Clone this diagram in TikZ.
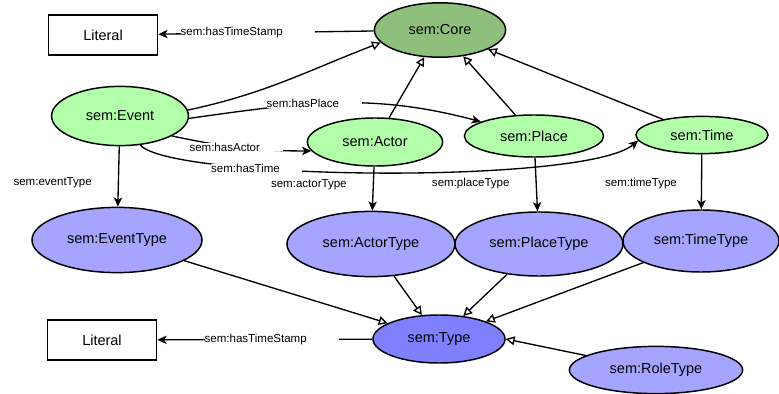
\documentclass[tikz,border=0pt]{standalone}
\usepackage{fontspec}
\setmainfont{Liberation Sans}
\usepackage{tikz}
\usetikzlibrary{shapes.geometric}
\usetikzlibrary{arrows.meta}
\usetikzlibrary{positioning}

\definecolor{coregreen}{RGB}{143,191,125}
\definecolor{classgreen}{RGB}{178,255,170}
\definecolor{typeblue}{RGB}{165,165,255}
\definecolor{baseblue}{RGB}{128,128,255}

\newcommand{\clsfont}{\fontsize{10.3}{12}\selectfont}
\newcommand{\relfont}{\fontsize{8.2}{10}\selectfont}

\tikzset{
	cls/.style= {ellipse, draw, line width= 1.05pt, inner sep= 0pt, font= \clsfont},
	literal/.style= {rectangle, draw, line width= 1.05pt, inner sep= 0pt, minimum width= 2.73cm, minimum height= 1cm, font= \clsfont},
	rel/.style= {line width= 0.95pt, -{Stealth[length= 2.3mm, width= 2.1mm, inset= 0.6mm]}},
	isa/.style= {line width= 0.95pt, -{Triangle[open, length= 2.2mm, width= 2.2mm, fill= white]}},
	lbl/.style= {font= \relfont, fill= white, inner sep= 0pt, align= left},
	typelbl/.style= {font= \relfont, inner sep= 0pt}
}

\begin{document}
\begin{tikzpicture}[x= 0.025cm, y= 0.025cm]
	\useasboundingbox (0,0) rectangle (779,-394);

	% classes
	\node [cls, fill= coregreen, minimum width= 3.28cm, minimum height= 1.36cm] (core) at (440,-30) {sem:Core};
	\node [cls, fill= classgreen, minimum width= 3.42cm, minimum height= 1.48cm] (event) at (120,-116) {sem:Event};
	\node [cls, fill= classgreen, minimum width= 3.38cm, minimum height= 1.2cm] (actor) at (375,-142) {sem:Actor};
	\node [cls, fill= classgreen, minimum width= 3.48cm, minimum height= 1.05cm] (place) at (534,-136) {sem:Place};
	\node [cls, fill= classgreen, minimum width= 3.3cm, minimum height= 0.93cm] (time) at (702,-135) {sem:Time};

	% types
	\node [cls, fill= typeblue, minimum width= 4.25cm, minimum height= 1.63cm] (eventtype) at (117,-240) {sem:EventType};
	\node [cls, fill= typeblue, minimum width= 4.2cm, minimum height= 1.63cm] (actortype) at (371,-244) {sem:ActorType};
	\node [cls, fill= typeblue, minimum width= 4.2cm, minimum height= 1.6cm] (placetype) at (539,-244) {sem:PlaceType};
	\node [cls, fill= typeblue, minimum width= 3.9cm, minimum height= 1.55cm] (timetype) at (701,-241) {sem:TimeType};
	\node [cls, fill= baseblue, minimum width= 3.3cm, minimum height= 1.2cm] (type) at (439,-339) {sem:Type};
	\node [cls, fill= typeblue, minimum width= 4.33cm, minimum height= 1.18cm] (roletype) at (656,-370) {sem:RoleType};

	\node [literal] (lit1) at (103,-35) {Literal};
	\node [literal] (lit2) at (102,-340) {Literal};

	% subclass links
	\draw [isa] (event.5) to [out= 12, in= 201] (core.192);
	\draw [isa] (actor) -- (core);
	\draw [isa] (place) -- (core);
	\draw [isa] (time) -- (core);
	\draw [isa] (eventtype) -- (type);
	\draw [isa] (actortype) -- (type);
	\draw [isa] (placetype) -- (type);
	\draw [isa] (timetype) -- (type);
	\draw [isa] (roletype) -- (type.east);

	% properties
	\draw [rel] (core) -- (lit1) node [lbl, pos= 0.585, text width= 3.35cm] (stamp1) {sem:hasTimeStamp};
	\draw [rel] (type) -- (lit2) node [lbl, pos= 0.468, text width= 3.35cm] (stamp2) {sem:hasTimeStamp};
	\draw [rel] (event.-2) to [out= 8, in= 165] node [lbl, pos= 0.42, text width= 2.38cm] (hasplace) {sem:hasPlace} (place.165);
	\draw [rel] (event.-21) to [out= -12, in= 180] node [lbl, pos= 0.46, text width= 2.33cm] (hasactor) {sem:hasActor} (actor.188);
	\draw [rel] (event.-55) .. controls (170,-180) and (585,-185) .. (time.185) node [lbl, pos= 0.31, text width= 2.28cm] (hastime) {sem:hasTime};

	\draw [rel] (event) -- (eventtype) node [typelbl, pos= 0.6, left= 0.65cm] (evtype) {sem:eventType};
	\draw [rel] (actor) -- (actortype) node [typelbl, pos= 0.41, left= 0.65cm] (actype) {sem:actorType};
	\draw [rel] (place) -- (placetype) node [typelbl, pos= 0.49, left= 0.65cm] (pltype) {sem:placeType};
	\draw [rel] (time) -- (timetype) node [typelbl, pos= 0.54, left= 0.6cm] (tmtype) {sem:timeType};
\end{tikzpicture}
\end{document}
